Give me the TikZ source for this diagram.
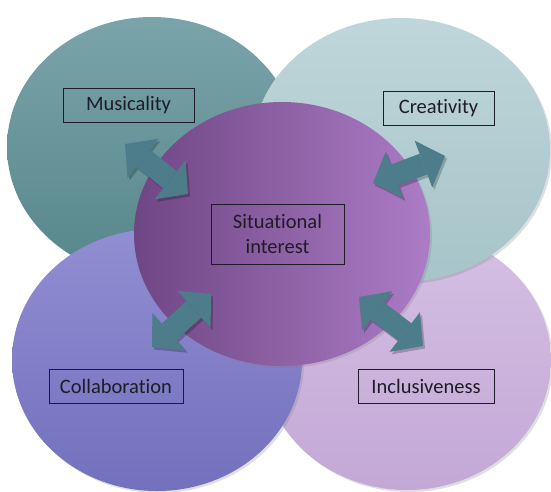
\documentclass[tikz,border=0pt]{standalone}
\usepackage{fontspec}
\setmainfont{Carlito}[Ligatures=NoCommon]
\usetikzlibrary{shapes.geometric,arrows.meta,shadows}

\definecolor{muscA}{HTML}{7AA4AA}
\definecolor{muscB}{HTML}{56868A}
\definecolor{creaA}{HTML}{BFD6DA}
\definecolor{creaB}{HTML}{A6C4C9}
\definecolor{collA}{HTML}{918ED3}
\definecolor{collB}{HTML}{7370BD}
\definecolor{inclA}{HTML}{D5C0E3}
\definecolor{inclB}{HTML}{C3A8D6}
\definecolor{sitA}{HTML}{6F4684}
\definecolor{sitB}{HTML}{AC7CC6}
\definecolor{arrcol}{HTML}{4D7C8A}
\definecolor{inkcol}{HTML}{1E1C26}

\begin{document}
\begin{tikzpicture}[x=1pt,y=-1pt,
  blob/.style={ellipse, inner sep=0pt, drop shadow={opacity=0.25, shadow xshift=2pt, shadow yshift=-2pt}},
  tag/.style={draw=inkcol, line width=0.8pt, text=inkcol, inner sep=0pt, align=center,
    font=\fontsize{20.5}{25}\selectfont},
  link/.style={draw=arrcol, line width=22pt,
    {Triangle[width=50pt,length=23pt,line width=0pt]}-{Triangle[width=50pt,length=23pt,line width=0pt]}},
  linkshade/.style={draw=black, opacity=0.22, line width=22pt,
    transform canvas={shift={(2pt,-2.5pt)}},
    {Triangle[width=50pt,length=23pt,line width=0pt]}-{Triangle[width=50pt,length=23pt,line width=0pt]}}]

\useasboundingbox (0,0) rectangle (551,491);

% the four outer areas, then the centre on top
\node[blob, minimum width=290pt, minimum height=260pt, top color=muscA, bottom color=muscB] (musc) at (152,147) {};
\node[blob, minimum width=288pt, minimum height=260pt, top color=inclA, bottom color=inclB] (incl) at (407,360) {};
\node[blob, minimum width=298pt, minimum height=264pt, top color=creaA, bottom color=creaB] (crea) at (401,150) {};
\node[blob, minimum width=290pt, minimum height=262pt, top color=collA, bottom color=collB] (coll) at (157,360) {};
\node[blob, minimum width=296pt, minimum height=264pt, left color=sitA, right color=sitB] (sit) at (282,234) {};

% arrow ends
\coordinate (m1) at (125,144);
\coordinate (m2) at (188,194);
\coordinate (c1) at (373,183);
\coordinate (c2) at (445,156);
\coordinate (k1) at (152,347);
\coordinate (k2) at (211,294);
\coordinate (i1) at (359,297);
\coordinate (i2) at (423,346);

\draw[linkshade] (m1) -- (m2);
\draw[linkshade] (c1) -- (c2);
\draw[linkshade] (k1) -- (k2);
\draw[linkshade] (i1) -- (i2);
\draw[link] (m1) -- (m2);
\draw[link] (c1) -- (c2);
\draw[link] (k1) -- (k2);
\draw[link] (i1) -- (i2);

% labels
\node[tag, minimum width=131pt, minimum height=34pt] (tmusc) at (128.5,105) {Musicality};
\node[tag, minimum width=111pt, minimum height=34pt] (tcrea) at (438.5,108) {Creativity};
\node[tag, minimum width=133pt, minimum height=60pt] (tsit) at (277.5,234) {Situational\\interest};
\node[tag, minimum width=134pt, minimum height=34pt] (tcoll) at (116,386) {Collaboration};
\node[tag, minimum width=136pt, minimum height=34pt] (tincl) at (426,386) {Inclusiveness};

\end{tikzpicture}
\end{document}
